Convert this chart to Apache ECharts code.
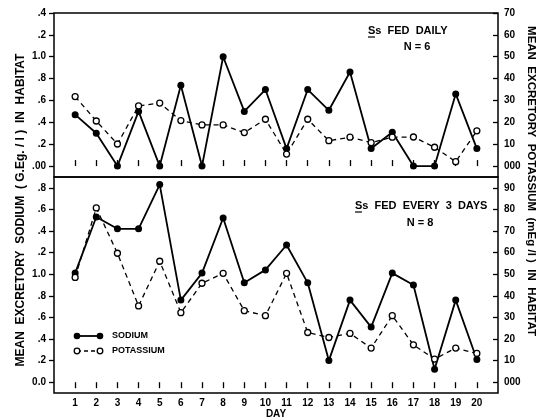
<!DOCTYPE html>
<html>
<head>
<meta charset="utf-8">
<script src="https://cdn.jsdelivr.net/npm/echarts@6/dist/echarts.min.js"></script>
<style>
  html, body { margin: 0; background: #fff; }
  #chart { width: 543px; height: 420px; }
</style>
</head>
<body>
<div id="chart"></div>
<script>
// days 1..20
var days = [1, 2, 3, 4, 5, 6, 7, 8, 9, 10, 11, 12, 13, 14, 15, 16, 17, 18, 19, 20]

// Ss fed daily, N = 6
var dailySodium = [0.47, 0.30, 0.00, 0.50, 0.00, 0.74, 0.00, 1.00, 0.50, 0.70, 0.16, 0.70, 0.51, 0.86, 0.16, 0.31, 0.00, 0.00, 0.66, 0.16]
var dailyPotassium = [31.8, 20.6, 10.1, 27.5, 28.8, 20.8, 18.8, 18.8, 15.3, 21.4, 5.5, 21.4, 11.6, 13.2, 10.7, 13.2, 13.3, 8.6, 2.0, 16.1]

// Ss fed every 3 days, N = 8
var every3Sodium = [1.01, 1.53, 1.42, 1.42, 1.83, 0.76, 1.01, 1.52, 0.92, 1.04, 1.27, 0.92, 0.20, 0.76, 0.51, 1.01, 0.90, 0.12, 0.76, 0.21]
var every3Potassium = [48.5, 80.7, 59.7, 35.3, 56.0, 32.2, 45.8, 50.4, 33.1, 30.8, 50.4, 23.0, 20.7, 22.6, 15.8, 30.8, 17.3, 10.7, 15.8, 13.3]

// tick values and the labels printed on the original
var topLeftTicks = [0, 0.2, 0.4, 0.6, 0.8, 1.0, 1.2, 1.4]
var topLeftLabels = ['.00', '.2', '.4', '.6', '.8', '1.0', '.2', '.4']
var topRightTicks = [0, 10, 20, 30, 40, 50, 60, 70]
var topRightLabels = ['000', '10', '20', '30', '40', '50', '60', '70']
var bottomLeftTicks = [0, 0.2, 0.4, 0.6, 0.8, 1.0, 1.2, 1.4, 1.6, 1.8]
var bottomLeftLabels = ['0.0', '.2', '.4', '.6', '.8', '1.0', '.2', '.4', '.6', '.8']
var bottomRightTicks = [0, 10, 20, 30, 40, 50, 60, 70, 80, 90]
var bottomRightLabels = ['000', '10', '20', '30', '40', '50', '60', '70', '80', '90']

var FONT = 'Liberation Sans'

function pairs(vals) {
  return days.map(function(d, i) { return [d, vals[i]] })
}

function labelFor(ticks, labels) {
  return function(v) {
    for (var i = 0; i < ticks.length; i++) {
      if (Math.abs(ticks[i] - v) < 1e-6) return labels[i]
    }
    return ''
  }
}

function xAxis(gridIndex, showLabels) {
  return {
    type: 'value',
    gridIndex: gridIndex,
    min: 0,
    max: 21,
    axisLine: { show: false },
    splitLine: { show: false },
    axisTick: {
      show: true,
      inside: !showLabels,
      length: 6,
      customValues: days,
      lineStyle: { color: '#000', width: 1.3 }
    },
    axisLabel: {
      show: showLabels,
      customValues: days,
      margin: 5,
      color: '#000',
      fontFamily: FONT,
      fontWeight: 'bold',
      fontSize: 10
    }
  }
}

function yAxis(gridIndex, side, min, max, ticks, labels) {
  var left = side === 'left'
  return {
    type: 'value',
    gridIndex: gridIndex,
    position: side,
    min: min,
    max: max,
    axisLine: { show: false },
    splitLine: { show: false },
    axisTick: {
      show: true,
      inside: !left,
      length: 5,
      customValues: ticks,
      lineStyle: { color: '#000', width: 1.3 }
    },
    axisLabel: {
      customValues: ticks,
      formatter: labelFor(ticks, labels),
      margin: left ? 8 : 6,
      color: '#000',
      fontFamily: FONT,
      fontWeight: 'bold',
      fontSize: 10
    }
  }
}

function sodiumSeries(xi, yi, data) {
  return {
    type: 'line',
    xAxisIndex: xi,
    yAxisIndex: yi,
    data: pairs(data),
    symbol: 'circle',
    symbolSize: 7,
    itemStyle: { color: '#000' },
    lineStyle: { color: '#000', width: 1.8 },
    silent: true,
    z: 3
  }
}

function potassiumSeries(xi, yi, data) {
  return {
    type: 'line',
    xAxisIndex: xi,
    yAxisIndex: yi,
    data: pairs(data),
    symbol: 'circle',
    symbolSize: 6,
    itemStyle: { color: '#fff', borderColor: '#000', borderWidth: 1.3 },
    lineStyle: { color: '#000', width: 1.3, type: [5, 4] },
    silent: true,
    z: 4
  }
}

var chart = echarts.init(document.getElementById('chart'), null, { renderer: 'canvas' })

function text(x, y, str, size, align, rotation) {
  return {
    type: 'text',
    x: x,
    y: y,
    rotation: rotation || 0,
    style: {
      text: str,
      fill: '#000',
      font: 'bold ' + size + 'px "' + FONT + '"',
      textAlign: align || 'left',
      textVerticalAlign: 'middle'
    }
  }
}

chart.setOption({
  animation: false,
  backgroundColor: '#fff',
  grid: [
    { left: 54, right: 45, top: 13, height: 164, show: true, borderColor: '#000', borderWidth: 1.5, backgroundColor: 'transparent' },
    { left: 54, right: 45, top: 177, height: 216, show: true, borderColor: '#000', borderWidth: 1.5, backgroundColor: 'transparent' }
  ],
  xAxis: [xAxis(0, false), xAxis(1, true)],
  yAxis: [
    yAxis(0, 'left', -0.1, 1.4, topLeftTicks, topLeftLabels),
    yAxis(0, 'right', -5, 70, topRightTicks, topRightLabels),
    yAxis(1, 'left', -0.1, 1.9, bottomLeftTicks, bottomLeftLabels),
    yAxis(1, 'right', -5, 95, bottomRightTicks, bottomRightLabels)
  ],
  series: [
    sodiumSeries(0, 0, dailySodium),
    potassiumSeries(0, 1, dailyPotassium),
    sodiumSeries(1, 2, every3Sodium),
    potassiumSeries(1, 3, every3Potassium)
  ],
  graphic: [
    // panel captions
    text(368, 31, 'Ss  FED  DAILY', 11),
    { type: 'line', shape: { x1: 368, y1: 37, x2: 375, y2: 37 }, style: { stroke: '#000', lineWidth: 1.2 } },
    text(417, 47, 'N = 6', 11, 'center'),
    text(355, 206, 'Ss  FED  EVERY  3  DAYS', 11),
    { type: 'line', shape: { x1: 355, y1: 212, x2: 362, y2: 212 }, style: { stroke: '#000', lineWidth: 1.2 } },
    text(420, 223, 'N = 8', 11, 'center'),

    // legend
    { type: 'line', shape: { x1: 77, y1: 336, x2: 100, y2: 336 }, style: { stroke: '#000', lineWidth: 1.8 } },
    { type: 'circle', shape: { cx: 77, cy: 336, r: 3.3 }, style: { fill: '#000' } },
    { type: 'circle', shape: { cx: 100, cy: 336, r: 3.3 }, style: { fill: '#000' } },
    text(112, 336, 'SODIUM', 9),
    { type: 'line', shape: { x1: 77, y1: 351, x2: 100, y2: 351 }, style: { stroke: '#000', lineWidth: 1.3, lineDash: [4, 3] } },
    { type: 'circle', shape: { cx: 77, cy: 351, r: 2.8 }, style: { fill: '#fff', stroke: '#000', lineWidth: 1.3 } },
    { type: 'circle', shape: { cx: 100, cy: 351, r: 2.8 }, style: { fill: '#fff', stroke: '#000', lineWidth: 1.3 } },
    text(112, 351, 'POTASSIUM', 9),

    // axis titles
    text(21, 210, 'MEAN  EXCRETORY  SODIUM  ( G.Eg. / l )  IN  HABITAT', 12, 'center', Math.PI / 2),
    text(531, 181, 'MEAN  EXCRETORY  POTASSIUM  (mEg /l )  IN  HABITAT', 11.5, 'center', -Math.PI / 2),
    text(276, 414, 'DAY', 10, 'center')
  ]
})
</script>
</body>
</html>
